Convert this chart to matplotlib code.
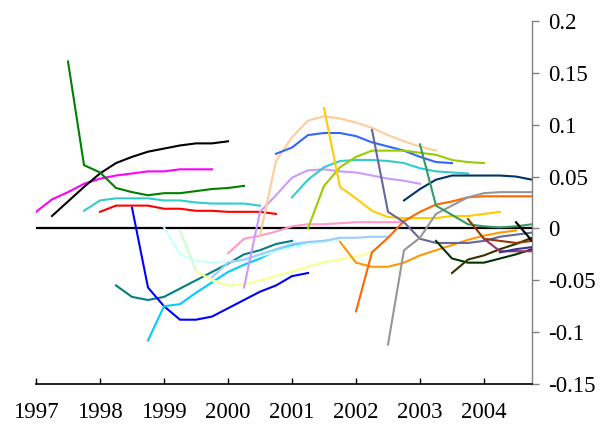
import matplotlib
matplotlib.use("Agg")
import matplotlib.pyplot as plt
import numpy as np

# ---- data (quarterly vintages; first value at the given start date) ----
starts = [1997.0, 1997.25, 1997.5, 1997.75, 1998.0, 1998.25, 1998.5, 1998.75,
          1999.0, 1999.25, 1999.5, 1999.75, 2000.0, 2000.25, 2000.5, 2000.75,
          2001.0, 2001.25, 2001.5, 2001.75, 2002.0, 2002.25, 2002.5, 2002.75,
          2003.0, 2003.25, 2003.5, 2003.75, 2004.0, 2004.25, 2004.5]

s1997q1 = [0.016, 0.028, 0.035, 0.043, 0.048, 0.051, 0.053, 0.055, 0.055, 0.057, 0.057, 0.057]
s1997q2 = [0.012, 0.026, 0.040, 0.053, 0.063, 0.069, 0.074, 0.077, 0.080, 0.082, 0.082, 0.084]
s1997q3 = [0.161, 0.061, 0.054, 0.039, 0.035, 0.032, 0.034, 0.034, 0.036, 0.038, 0.039, 0.041]
s1997q4 = [0.017, 0.027, 0.029, 0.029, 0.029, 0.027, 0.027, 0.025, 0.024, 0.024, 0.024, 0.022]
s1998q1 = [0.016, 0.022, 0.022, 0.022, 0.019, 0.019, 0.017, 0.017, 0.016, 0.016, 0.016, 0.014]
s1998q2 = [-0.055, -0.066, -0.069, -0.066, -0.058, -0.050, -0.042, -0.034, -0.025, -0.021, -0.015, -0.012]
s1998q3 = [0.020, -0.057, -0.075, -0.088, -0.088, -0.085, -0.077, -0.069, -0.061, -0.055, -0.046, -0.043]
s1998q4 = [-0.108, -0.075, -0.073, -0.062, -0.052, -0.042, -0.035, -0.029, -0.021, -0.016, -0.014, -0.012]
s1999q1 = [0.001, -0.025, -0.031, -0.033, -0.032, -0.031, -0.027, -0.022, -0.018, -0.015, -0.013, -0.011]
s1999q2 = [-0.002, -0.041, -0.050, -0.055, -0.054, -0.050, -0.046, -0.042, -0.037, -0.033, -0.030, -0.027]
s1999q3 = [-0.041, -0.050, -0.055, -0.054, -0.050, -0.046, -0.041, -0.037, -0.032, -0.030, -0.027, -0.023]
s1999q4 = [-0.047, -0.033, -0.030, -0.025, -0.020, -0.015, -0.013, -0.012, -0.009, -0.009, -0.008, -0.008]
s2000q1 = [-0.024, -0.010, -0.007, -0.003, 0.002, 0.004, 0.004, 0.005, 0.006, 0.006, 0.006, 0.006]
s2000q2 = [-0.057, 0.016, 0.032, 0.049, 0.056, 0.057, 0.055, 0.054, 0.051, 0.048, 0.046, 0.043]
s2000q3 = [-0.007, 0.065, 0.088, 0.104, 0.108, 0.106, 0.102, 0.097, 0.090, 0.084, 0.079, 0.075]
s2000q4 = [0.072, 0.078, 0.090, 0.092, 0.092, 0.089, 0.083, 0.079, 0.075, 0.069, 0.064, 0.063]
s2001q1 = [0.030, 0.047, 0.059, 0.065, 0.066, 0.066, 0.065, 0.063, 0.058, 0.055, 0.054, 0.053]
s2001q2 = [0.000, 0.041, 0.059, 0.069, 0.075, 0.075, 0.075, 0.073, 0.071, 0.066, 0.064, 0.063]
s2001q3 = [0.116, 0.040, 0.029, 0.017, 0.011, 0.010, 0.010, 0.010, 0.012, 0.012, 0.014, 0.016]
s2001q4 = [-0.013, -0.033, -0.037, -0.037, -0.033, -0.026, -0.021, -0.016, -0.011, -0.007, -0.004, -0.002]
s2002q1 = [-0.080, -0.023, -0.009, 0.007, 0.016, 0.023, 0.026, 0.030, 0.031, 0.031, 0.031, 0.031]
s2002q2 = [0.095, 0.016, 0.006, -0.010, -0.014, -0.014, -0.014, -0.012, -0.008, -0.006, -0.004]
s2002q3 = [-0.112, -0.021, -0.009, 0.014, 0.022, 0.030, 0.034, 0.035, 0.035, 0.035]
s2002q4 = [0.027, 0.038, 0.047, 0.051, 0.051, 0.051, 0.051, 0.050, 0.047]
s2003q1 = [0.081, 0.022, 0.013, 0.004, 0.002, 0.001, 0.002, 0.004]
s2003q2 = [-0.012, -0.029, -0.033, -0.033, -0.029, -0.025, -0.020]
s2003q3 = [-0.043, -0.030, -0.026, -0.020, -0.015, -0.009]
s2003q4 = [0.009, -0.010, -0.012, -0.014, -0.012]
s2004q1 = [-0.010, -0.022, -0.022, -0.022]
s2004q2 = [-0.023, -0.020, -0.018]
s2004q3 = [0.006, -0.012]

series = [s1997q1, s1997q2, s1997q3, s1997q4, s1998q1, s1998q2, s1998q3, s1998q4,
          s1999q1, s1999q2, s1999q3, s1999q4, s2000q1, s2000q2, s2000q3, s2000q4,
          s2001q1, s2001q2, s2001q3, s2001q4, s2002q1, s2002q2, s2002q3, s2002q4,
          s2003q1, s2003q2, s2003q3, s2003q4, s2004q1, s2004q2, s2004q3]

year_ticks = [1997, 1998, 1999, 2000, 2001, 2002, 2003, 2004]
year_labels = ["1997", "1998", "1999", "2000", "2001", "2002", "2003", "2004"]
y_ticks = [0.2, 0.15, 0.1, 0.05, 0.0, -0.05, -0.1, -0.15]
y_labels = ["0.2", "0.15", "0.1", "0.05", "0", "-0.05", "-0.1", "-0.15"]

# ---- styles ----
colors = ["#FF00FF", "#000000", "#008000", "#33CCCC", "#FF0000", "#008080", "#0000FF", "#00CCFF",
          "#CCFFFF", "#CCFFCC", "#FFFF99", "#99CCFF", "#FF99CC", "#CC99FF", "#FFCC99", "#3366FF",
          "#33CCCC", "#99CC00", "#FFCC00", "#FF9900", "#FF6600", "#666699", "#969696", "#003366",
          "#339966", "#003300", "#333300", "#993300", "#993366", "#333399", "#000000"]

plt.rcParams['font.family'] = ['Liberation Serif', 'DejaVu Serif']

fig = plt.figure(figsize=(6.01, 4.25), dpi=100)
ax = fig.add_axes([36 / 601, 1 - 384 / 425, (532 - 36) / 601, (384 - 21) / 425])

ax.axhline(0, color="black", lw=1.6, zorder=1)
for st, vals, c in zip(starts, series, colors):
    t = st + 0.25 * np.arange(len(vals))
    ax.plot(t, vals, color=c, lw=1.5, solid_joinstyle="miter", zorder=2)

ax.set_xlim(1997, 2004.75)
ax.set_ylim(-0.15, 0.2)

ax.spines["top"].set_visible(False)
ax.spines["left"].set_visible(False)
ax.spines["right"].set_color("#808080")
ax.spines["right"].set_linewidth(1.0)
ax.spines["bottom"].set_color("black")
ax.spines["bottom"].set_linewidth(1.2)

ax.yaxis.tick_right()
ax.set_yticks(y_ticks)
ax.set_yticklabels(y_labels)
ax.tick_params(axis="y", direction="out", length=5, width=1, color="#808080",
               labelsize=16.5, pad=6.5, labelcolor="black")

ax.set_xticks(year_ticks)
ax.set_xticklabels(year_labels)
ax.tick_params(axis="x", direction="in", length=4.5, width=1, color="black",
               labelsize=16.5, pad=13)

fig.savefig("out.png", dpi=100)
